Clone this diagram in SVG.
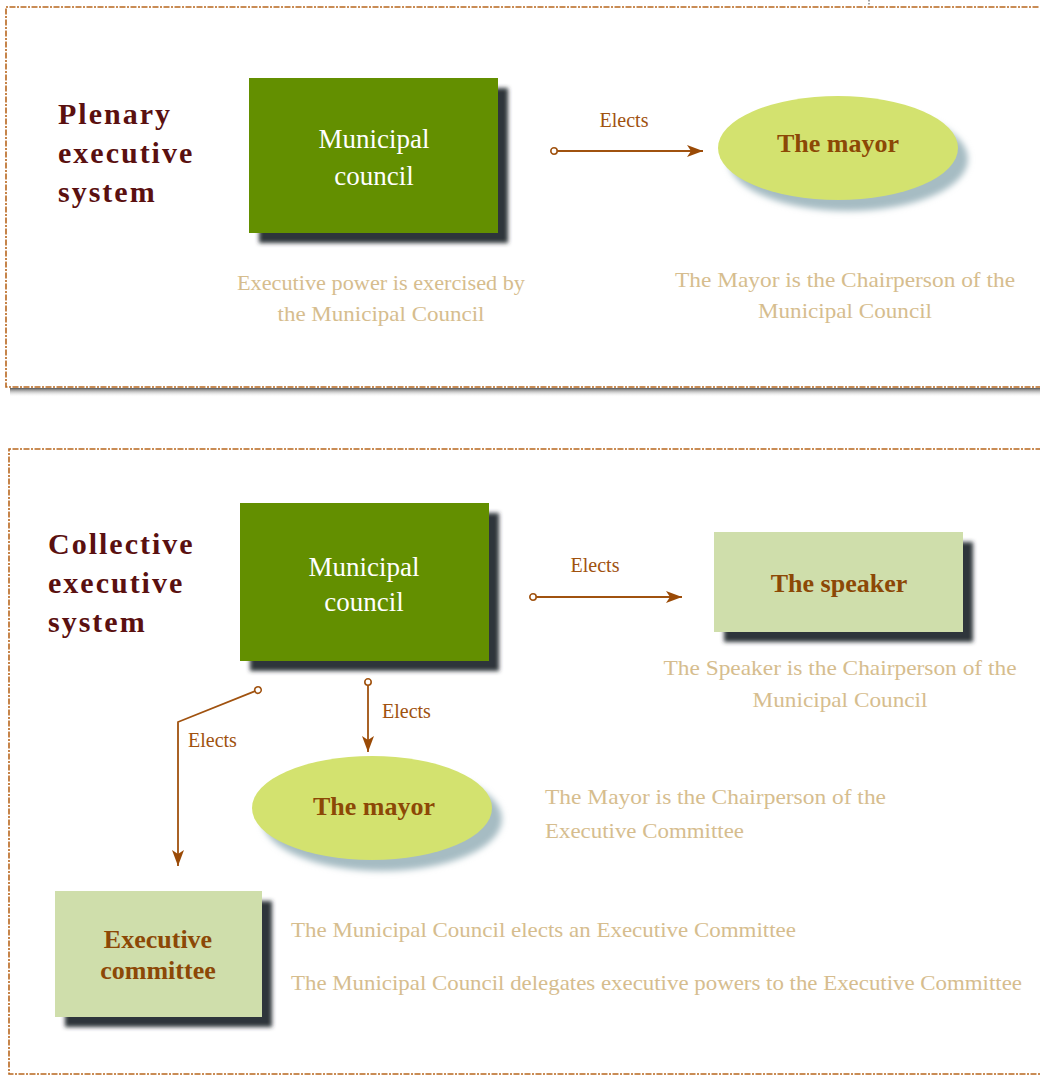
<svg xmlns="http://www.w3.org/2000/svg" width="1040" height="1076" viewBox="0 0 1040 1076">
<defs>
  <filter id="boxShadow" x="-10%" y="-10%" width="130%" height="130%">
    <feGaussianBlur stdDeviation="2"/>
  </filter>
  <filter id="ellShadow" x="-10%" y="-10%" width="130%" height="140%">
    <feGaussianBlur stdDeviation="3"/>
  </filter>
  <linearGradient id="frameShadow" x1="0" y1="0" x2="0" y2="1">
    <stop offset="0" stop-color="#555"/>
    <stop offset="1" stop-color="#fff" stop-opacity="0"/>
  </linearGradient>
  <marker id="startDot" markerWidth="10" markerHeight="10" refX="5" refY="5" markerUnits="userSpaceOnUse" orient="auto">
    <circle cx="5" cy="5" r="3.2" fill="#fff" stroke="#a0520f" stroke-width="1.6"/>
  </marker>
  <marker id="arrowHead" markerWidth="18" markerHeight="14" refX="16" refY="7" markerUnits="userSpaceOnUse" orient="auto">
    <path d="M0,1 L16,7 L0,13 L4,7 Z" fill="#9a4a06"/>
  </marker>
</defs>
<style>
  .frame { fill: #fff; stroke: #b8671e; stroke-width: 1.6; stroke-dasharray: 2 1.5 6 1.5; }
  .heading { font-family: "Liberation Serif", serif; font-weight: bold; font-size: 30px; fill: #5a1010; letter-spacing: 2px; }
  .council { fill: #638f00; }
  .lightbox { fill: #cfdeab; }
  .ell { fill: #d3e26f; }
  .boxsh { fill: #2f343a; filter: url(#boxShadow); }
  .ellsh { fill: #a6bcc3; filter: url(#ellShadow); }
  .white { font-family: "Liberation Serif", serif; font-size: 27px; fill: #fff; text-anchor: middle; }
  .nodetxt { font-family: "Liberation Serif", serif; font-weight: bold; font-size: 26px; fill: #8c4806; text-anchor: middle; }
  .desc { font-family: "Liberation Serif", serif; font-size: 22px; fill: #d6bd8e; }
  .mid { text-anchor: middle; }
  .elects { font-family: "Liberation Serif", serif; font-size: 20px; fill: #a0520f; }
  .conn { fill: none; stroke: #a0520f; stroke-width: 1.8; marker-start: url(#startDot); marker-end: url(#arrowHead); }
</style>

<!-- Frames -->
<g id="frame-plenary">
  <rect x="10" y="388" width="1040" height="9" fill="url(#frameShadow)"/>
  <rect class="frame" x="6" y="7" width="1050" height="380"/>
</g>
<g id="frame-collective">
  <rect class="frame" x="9" y="449" width="1050" height="625"/>
</g>
<line x1="869" y1="0" x2="869" y2="6" stroke="#888" stroke-width="1.5" stroke-dasharray="1.5 1.5"/>

<!-- Headings -->
<text class="heading" x="58" y="124">Plenary</text>
<text class="heading" x="58" y="163">executive</text>
<text class="heading" x="58" y="202">system</text>

<text class="heading" x="48" y="554">Collective</text>
<text class="heading" x="48" y="593">executive</text>
<text class="heading" x="48" y="632">system</text>

<!-- Plenary nodes -->
<g id="council1">
  <rect class="boxsh" x="259" y="88" width="249" height="155"/>
  <rect class="council" x="249" y="78" width="249" height="155"/>
  <text class="white" x="374" y="148">Municipal</text>
  <text class="white" x="374" y="185">council</text>
</g>
<g id="mayor1">
  <ellipse class="ellsh" cx="848" cy="159" rx="120" ry="52"/>
  <ellipse class="ell" cx="838" cy="148" rx="120" ry="52"/>
  <text class="nodetxt" x="838" y="152">The mayor</text>
</g>
<g id="desc1">
  <text class="desc mid" x="381" y="290" textLength="288" lengthAdjust="spacingAndGlyphs">Executive power is exercised by</text>
  <text class="desc mid" x="381" y="321" textLength="207" lengthAdjust="spacingAndGlyphs">the Municipal Council</text>
  <text class="desc mid" x="845" y="287" textLength="340" lengthAdjust="spacingAndGlyphs">The Mayor is the Chairperson of the</text>
  <text class="desc mid" x="845" y="318" textLength="174" lengthAdjust="spacingAndGlyphs">Municipal Council</text>
</g>

<!-- Collective nodes -->
<g id="council2">
  <rect class="boxsh" x="250" y="513" width="249" height="158"/>
  <rect class="council" x="240" y="503" width="249" height="158"/>
  <text class="white" x="364" y="576">Municipal</text>
  <text class="white" x="364" y="611">council</text>
</g>
<g id="speaker">
  <rect class="boxsh" x="724" y="542" width="249" height="100"/>
  <rect class="lightbox" x="714" y="532" width="249" height="100"/>
  <text class="nodetxt" x="839" y="592">The speaker</text>
</g>
<g id="mayor2">
  <ellipse class="ellsh" cx="382" cy="819" rx="120" ry="52"/>
  <ellipse class="ell" cx="372" cy="808" rx="120" ry="52"/>
  <text class="nodetxt" x="374" y="815">The mayor</text>
</g>
<g id="execcommittee">
  <rect class="boxsh" x="65" y="901" width="207" height="126"/>
  <rect class="lightbox" x="55" y="891" width="207" height="126"/>
  <text class="nodetxt" x="158" y="948">Executive</text>
  <text class="nodetxt" x="158" y="979">committee</text>
</g>
<g id="desc2">
  <text class="desc mid" x="840" y="675" textLength="353" lengthAdjust="spacingAndGlyphs">The Speaker is the Chairperson of the</text>
  <text class="desc mid" x="840" y="707" textLength="175" lengthAdjust="spacingAndGlyphs">Municipal Council</text>
  <text class="desc" x="545" y="804" textLength="341" lengthAdjust="spacingAndGlyphs">The Mayor is the Chairperson of the</text>
  <text class="desc" x="545" y="838" textLength="199" lengthAdjust="spacingAndGlyphs">Executive Committee</text>
  <text class="desc" x="291" y="937" textLength="505" lengthAdjust="spacingAndGlyphs">The Municipal Council elects an Executive Committee</text>
  <text class="desc" x="291" y="990" textLength="731" lengthAdjust="spacingAndGlyphs">The Municipal Council delegates executive powers to the Executive Committee</text>
</g>

<!-- Connectors -->
<g id="connectors">
  <path class="conn" d="M554,151 L703,151"/>
  <text class="elects mid" x="624" y="127">Elects</text>
  <path class="conn" d="M533,597 L682,597"/>
  <text class="elects mid" x="595" y="572">Elects</text>
  <path class="conn" d="M368,682 L368,752"/>
  <text class="elects" x="382" y="718">Elects</text>
  <path class="conn" d="M258,690 L178,722 L178,866"/>
  <text class="elects" x="188" y="747">Elects</text>
</g>
</svg>
